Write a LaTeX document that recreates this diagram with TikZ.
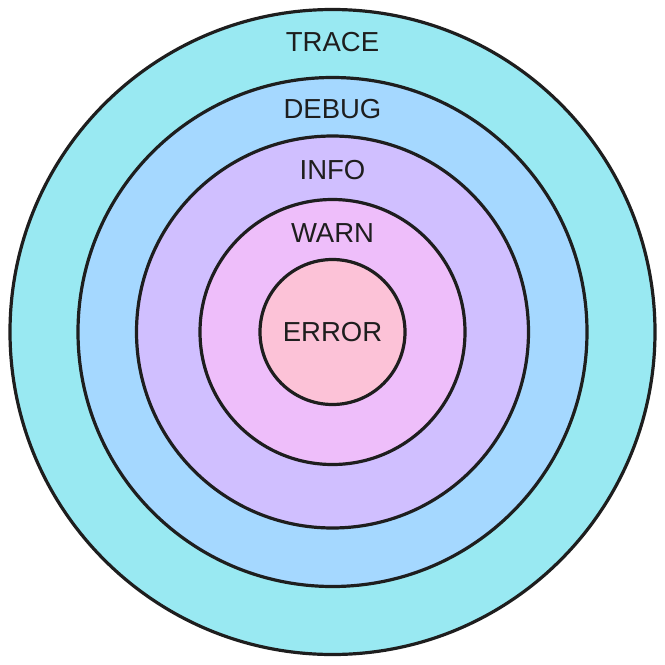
\documentclass[tikz,border=0pt]{standalone}
\usepackage{fontspec}
\setmainfont{Liberation Sans}
\usepackage{tikz}
\usetikzlibrary{positioning}
\usepackage{xcolor}

\definecolor{inkgray}{HTML}{1E1E1E}
\definecolor{tracecyan}{HTML}{99E9F2}
\definecolor{debugblue}{HTML}{A5D8FF}
\definecolor{infoviolet}{HTML}{D0BFFF}
\definecolor{warngrape}{HTML}{EEBEFA}
\definecolor{errorpink}{HTML}{FCC2D7}

\tikzset{
  ring/.style={draw=inkgray, line width=3.2pt},
  levellabel/.style={text=inkgray, font=\fontsize{27.5}{32}\selectfont, inner sep=0pt}
}

\begin{document}
\begin{tikzpicture}[x=1pt, y=-1pt]
  \useasboundingbox (0,0) rectangle (665,665);
  \coordinate (c) at (332.5,332);
  % rings, outer to inner
  \draw[ring, fill=tracecyan] (c) circle (322.5pt);
  \draw[ring, fill=debugblue] (c) circle (254.5pt);
  \draw[ring, fill=infoviolet] (c) circle (196pt);
  \draw[ring, fill=warngrape] (c) circle (132.5pt);
  \draw[ring, fill=errorpink] (c) circle (72.5pt);
  % labels
  \node[levellabel] (trace) at (332.5,42) {TRACE};
  \node[levellabel] (debug) at (332.5,109) {DEBUG};
  \node[levellabel] (info) at (332.5,170) {INFO};
  \node[levellabel] (warn) at (332.5,233) {WARN};
  \node[levellabel] (error) at (c) {ERROR};
\end{tikzpicture}
\end{document}
